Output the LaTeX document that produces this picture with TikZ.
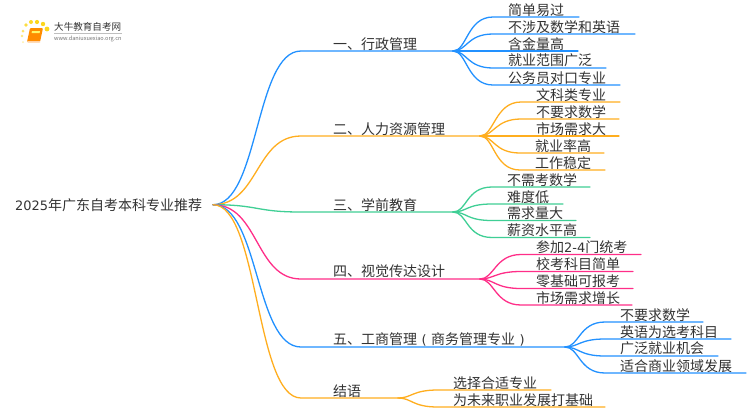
\documentclass[tikz,border=0pt]{standalone}
\usepackage{fontspec}
\setmainfont{Noto Sans CJK SC}
\newfontfamily\latinfont{DejaVu Sans}
\definecolor{cblue}{HTML}{2291FF}
\definecolor{corange}{HTML}{FFAE1F}
\definecolor{cgreen}{HTML}{3FCF95}
\definecolor{cpink}{HTML}{FF2E88}
\definecolor{ctext}{HTML}{333333}
\newcommand{\lat}[1]{{\latinfont\fontsize{13}{15}\selectfont #1}}
\newcommand{\cparen}[1]{\makebox[14bp][c]{\lat{#1}}}
\tikzset{
  conn/.style={line width=1.3pt,line cap=round},
  label/.style={anchor=west,inner sep=0pt,text=ctext,font=\fontsize{14.05}{16}\selectfont},
}
% leaf: name, junction, y, text x, end x, colour, text
\newcommand{\leafitem}[7]{%
  \coordinate (#1e) at (#5,#3);
  \coordinate (#1s) at ({#4-15},#3);
  \node[label] (#1) at (#4,{#3-7.3}) {#7};
  \draw[conn,#6] (#2) .. controls +(14,0) and +(-26,0) .. (#1s) -- (#1e);
}
% branch: name, y, text x, junction x, colour, text
\newcommand{\branchitem}[6]{%
  \coordinate (#1j) at (#4,#2);
  \coordinate (#1s) at (301,#2);
  \node[label] (#1) at (#3,{#2-7.3}) {#6};
  \draw[conn,#5] (rootj) .. controls +(46,0) and +(-46,0) .. (#1s) -- (#1j);
}
\begin{document}
\begin{tikzpicture}[x=1bp,y=-1bp]
\useasboundingbox (0,0) rectangle (750,410);
\fill[white] (0,0) rectangle (750,410);
% logo
\foreach \px/\py/\pr/\po in {23/42/1/.35,22/36/1.3/.5,23/31/1.5/.6,26/25/1.8/.75,31/22/2/.85,37/22/2.1/.9,43/24/2.2/.9,47/29/2.4/.9}
  \fill[yellow!70!orange,opacity=\po] (\px,\py) circle (\pr);
\fill[orange!90!yellow,rounded corners=1pt] (30,28) -- (43,28) -- (40,42) -- (27,42) -- cycle;
\fill[orange!35!white] (28,41) -- (40,41) -- (40,42.5) -- (27.5,42.5) -- cycle;
\fill[yellow!60!white] (32,31) -- (40,31) -- (39.6,33) -- (31.6,33) -- cycle;
\node[anchor=west,inner sep=0pt,text=ctext,font=\fontsize{9.6}{11}\selectfont] (logotitle) at (54,27) {大牛教育自考网};
\draw[black!25,line width=.5pt] (54,33.5) -- (122,33.5);
\node[anchor=west,inner sep=0pt,text=black!55,font=\fontsize{5.6}{7}\selectfont] (logourl) at (54,38.7) {www.daniuxuexiao.org.cn};
% root
\node[label] (root) at (15,205) {\lat{2025}年广东自考本科专业推荐};
\coordinate (rootj) at (213,204.7);
% branches
\branchitem{a}{51}{333}{453}{cblue}{一、行政管理}
\branchitem{b}{136}{333}{480}{corange}{二、人力资源管理}
\branchitem{c}{212}{333}{453}{cgreen}{三、学前教育}
\branchitem{d}{279}{333}{480}{cpink}{四、视觉传达设计}
\branchitem{e}{347}{333}{565}{cblue}{五、工商管理\cparen{(}商务管理专业\cparen{)}}
\branchitem{f}{398}{333}{398}{corange}{结语}
% leaves
\leafitem{a1}{aj}{17}{508}{579}{cblue}{简单易过}
\leafitem{a2}{aj}{34}{508}{635}{cblue}{不涉及数学和英语}
\leafitem{a3}{aj}{51}{508}{578}{cblue}{含金量高}
\leafitem{a4}{aj}{68}{508}{606}{cblue}{就业范围广泛}
\leafitem{a5}{aj}{85}{508}{620}{cblue}{公务员对口专业}
\leafitem{b1}{bj}{102}{536}{620}{corange}{文科类专业}
\leafitem{b2}{bj}{119}{536}{619}{corange}{不要求数学}
\leafitem{b3}{bj}{136}{536}{619}{corange}{市场需求大}
\leafitem{b4}{bj}{153}{535}{604}{corange}{就业率高}
\leafitem{b5}{bj}{170}{535}{605}{corange}{工作稳定}
\leafitem{c1}{cj}{187}{507}{590}{cgreen}{不需考数学}
\leafitem{c2}{cj}{204}{507}{563}{cgreen}{难度低}
\leafitem{c3}{cj}{220.5}{507}{576}{cgreen}{需求量大}
\leafitem{c4}{cj}{237.5}{507}{590}{cgreen}{薪资水平高}
\leafitem{d1}{dj}{254.5}{536}{641}{cpink}{参加\lat{2-4}门统考}
\leafitem{d2}{dj}{271.5}{536}{633}{cpink}{校考科目简单}
\leafitem{d3}{dj}{288.5}{536}{633}{cpink}{零基础可报考}
\leafitem{d4}{dj}{305}{536}{632}{cpink}{市场需求增长}
\leafitem{e1}{ej}{322}{620}{703}{cblue}{不要求数学}
\leafitem{e2}{ej}{339}{620}{731}{cblue}{英语为选考科目}
\leafitem{e3}{ej}{356}{620}{718}{cblue}{广泛就业机会}
\leafitem{e4}{ej}{373}{620}{746}{cblue}{适合商业领域发展}
\leafitem{f1}{fj}{390}{453}{551}{corange}{选择合适专业}
\leafitem{f2}{fj}{407}{453}{605}{corange}{为未来职业发展打基础}
\end{tikzpicture}
\end{document}
